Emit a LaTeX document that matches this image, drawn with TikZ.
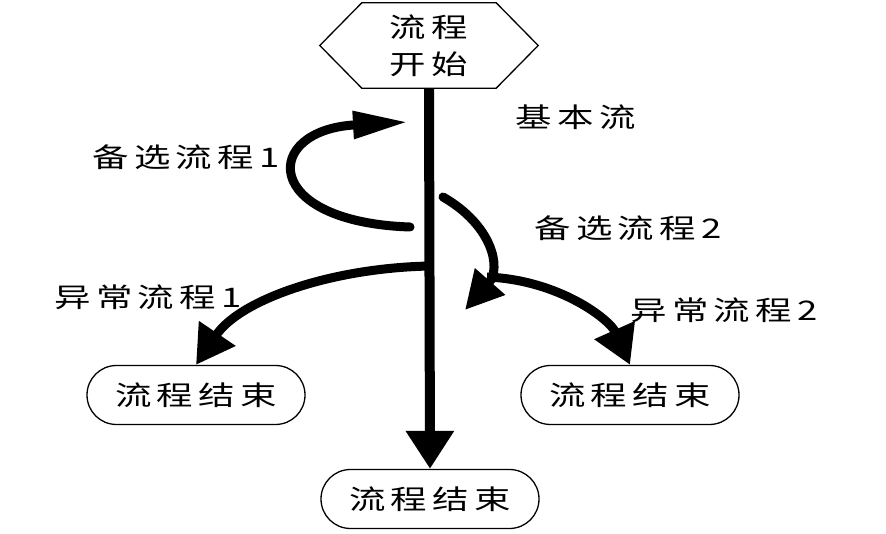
\documentclass[tikz,border=0pt]{standalone}
\usepackage{fontspec}
\newfontfamily\cjk[FakeStretch=1.35,LetterSpace=20]{Noto Sans CJK SC}
\usetikzlibrary{arrows.meta,shapes.misc}
\tikzset{
  lbl/.style={font=\cjk\fontsize{27}{32}\selectfont, inner sep=0pt},
  endbox/.style={draw, line width=1.3, rounded rectangle, minimum width=218, minimum height=59, inner sep=0pt, font=\cjk\fontsize{27}{32}\selectfont},
  flow/.style={line width=9, line cap=round},
}
\begin{document}
\begin{tikzpicture}[x=1pt,y=-1pt]
\useasboundingbox[fill=white] (0,0) rectangle (886,534);
% start node
\node[minimum width=218, minimum height=85, inner sep=0pt, align=center, font=\cjk\fontsize{27}{37}\selectfont] (start) at (429,45.5) {流程\\开始};
\draw[line width=1.3] (start.west) -- ([xshift=42]start.north west) -- ([xshift=-42]start.north east) -- (start.east) -- ([xshift=-42]start.south east) -- ([xshift=42]start.south west) -- cycle;
% end nodes
\node[endbox] (endC) at (430,499) {流程结束};
\node[endbox] (endL) at (196,395) {流程结束};
\node[endbox] (endR) at (630,395) {流程结束};
% labels
\node[lbl] (lbasic) at (576,117) {基本流};
\node[lbl] (la1) at (186,157) {备选流程1};
\node[lbl] (la2) at (628,228) {备选流程2};
\node[lbl] (le1) at (148,297) {异常流程1};
\node[lbl] (le2) at (724,310) {异常流程2};
% coordinates
\coordinate (a1s) at (410,227);
\coordinate (a1e) at (408,122);
\coordinate (a2s) at (443,197);
\coordinate (a2e) at (465,310);
\coordinate (e1s) at (430,266);
\coordinate (e2s) at (487,277);
% main flow
\draw[line width=10, -{Triangle[length=38,width=46]}] (start.south) -- (endC.north);
% alt 1
\draw[flow, -{Triangle[length=55,width=26]}] (a1s) .. controls (260,222) and (262,130) .. (a1e);
% alt 2
\draw[flow, -{Triangle[length=38,width=38]}] (a2s) .. controls (492,225) and (502,268) .. (a2e);
% exception 1
\draw[line width=9, -{Triangle[length=38,width=42]}] (e1s) .. controls (330,268) and (240,300) .. (endL.north);
% exception 2
\draw[line width=9, -{Triangle[length=38,width=42]}] (e2s) .. controls (560,280) and (610,320) .. (endR.north);
\end{tikzpicture}
\end{document}
